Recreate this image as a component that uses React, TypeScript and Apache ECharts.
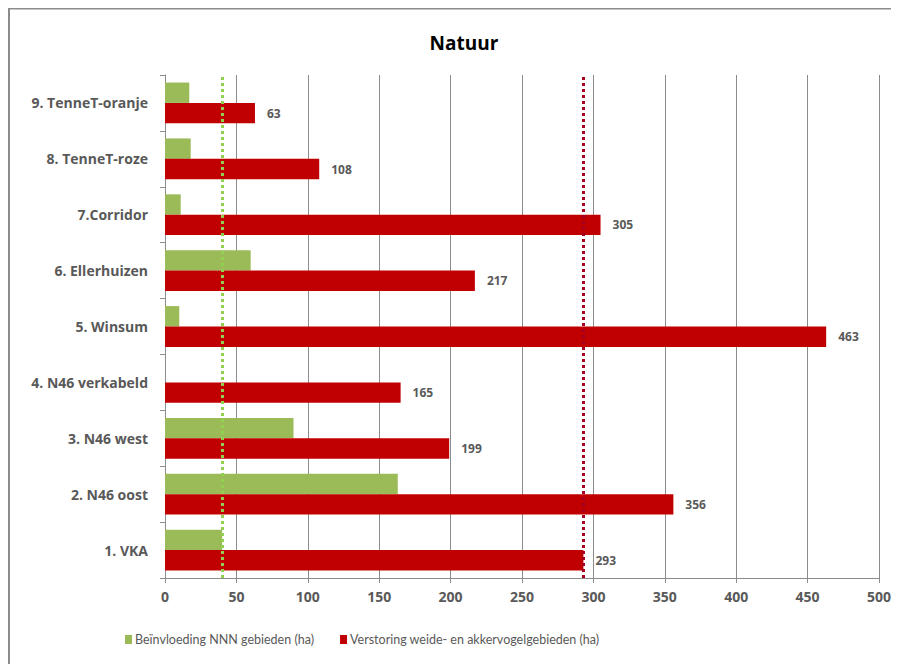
import React, { useEffect, useRef } from "react";
import * as echarts from "echarts";

const categories = [
  "1. VKA",
  "2. N46 oost",
  "3. N46 west",
  "4. N46 verkabeld",
  "5. Winsum",
  "6. Ellerhuizen",
  "7.Corridor",
  "8. TenneT-roze",
  "9. TenneT-oranje",
];
const greenName = "Beïnvloeding NNN gebieden (ha)";
const redName = "Verstoring weide- en akkervogelgebieden (ha)";
const greenValues = [40, 163, 90, 0, 10, 60, 11, 18, 17];
const redValues = [293, 356, 199, 165, 463, 217, 305, 108, 63];
const greenThreshold = 40;
const redThreshold = 293;
const xTicks = { min: 0, max: 500, interval: 50 };

export default function App() {
  const ref = useRef<HTMLDivElement>(null);
  useEffect(() => {
    if (!ref.current) return;
    const chart = echarts.init(ref.current, null, { renderer: "svg" });
    const gray = "#595959";
    chart.setOption({
      animation: false,
      backgroundColor: "#ffffff",
      title: {
        text: "Natuur",
        left: 451,
        textAlign: "center",
        top: 20,
        textStyle: { fontFamily: "Open Sans", fontWeight: "bold", fontSize: 19, color: "#000" },
      },
      graphic: [
        {
          type: "polyline",
          shape: { points: [[1, 656], [1, 0.5], [891, 0.5]] },
          style: { fill: "none", stroke: "#8c8c8c", lineWidth: 2 },
          silent: true,
        },
      ],
      legend: {
        data: [greenName, redName],
        left: 112,
        top: 620,
        itemWidth: 7,
        itemHeight: 9,
        itemGap: 26,
        icon: "rect",
        textStyle: { fontFamily: "Lato", fontSize: 12.5, color: gray, padding: [0, 0, 0, -2] },
      },
      grid: { left: 157, right: 20, top: 67, bottom: 86, containLabel: false },
      xAxis: {
        type: "value",
        min: xTicks.min,
        max: xTicks.max,
        interval: xTicks.interval,
        axisLine: { show: true, lineStyle: { color: "#8c8c8c", width: 1 } },
        axisTick: { show: true, length: 5, lineStyle: { color: "#8c8c8c" } },
        splitLine: { show: true, lineStyle: { color: "#8c8c8c", width: 1 } },
        axisLabel: { fontFamily: "Open Sans", fontWeight: "bold", fontSize: 14, color: gray, margin: 11 },
      },
      yAxis: {
        type: "category",
        data: categories,
        axisLine: { show: true, lineStyle: { color: "#8c8c8c", width: 1 } },
        axisTick: { show: true, length: 5, lineStyle: { color: "#8c8c8c" } },
        axisLabel: { fontFamily: "Open Sans", fontWeight: "bold", fontSize: 14, color: gray, margin: 17 },
        splitLine: { show: false },
      },
      series: [
        {
          name: greenName,
          type: "bar",
          data: greenValues,
          barGap: "0%",
          barCategoryGap: "27%",
          itemStyle: { color: "#9bbb59" },
          markLine: {
            silent: true,
            symbol: ["none", "none"],
            label: { show: false },
            lineStyle: { color: "#92d050", width: 3, type: [3, 3] },
            data: [{ xAxis: greenThreshold }],
          },
        },
        {
          name: redName,
          type: "bar",
          data: redValues,
          barGap: "0%",
          barCategoryGap: "27%",
          itemStyle: { color: "#c00000" },
          label: {
            show: true,
            position: "right",
            distance: 12,
            fontFamily: "Open Sans",
            fontWeight: "bold",
            fontSize: 12,
            color: gray,
          },
          markLine: {
            silent: true,
            symbol: ["none", "none"],
            label: { show: false },
            lineStyle: { color: "#a50021", width: 3, type: [3, 3] },
            data: [{ xAxis: redThreshold }],
          },
        },
      ],
    });
    return () => chart.dispose();
  }, []);
  return <div ref={ref} style={{ width: 891, height: 656 }} />;
}
